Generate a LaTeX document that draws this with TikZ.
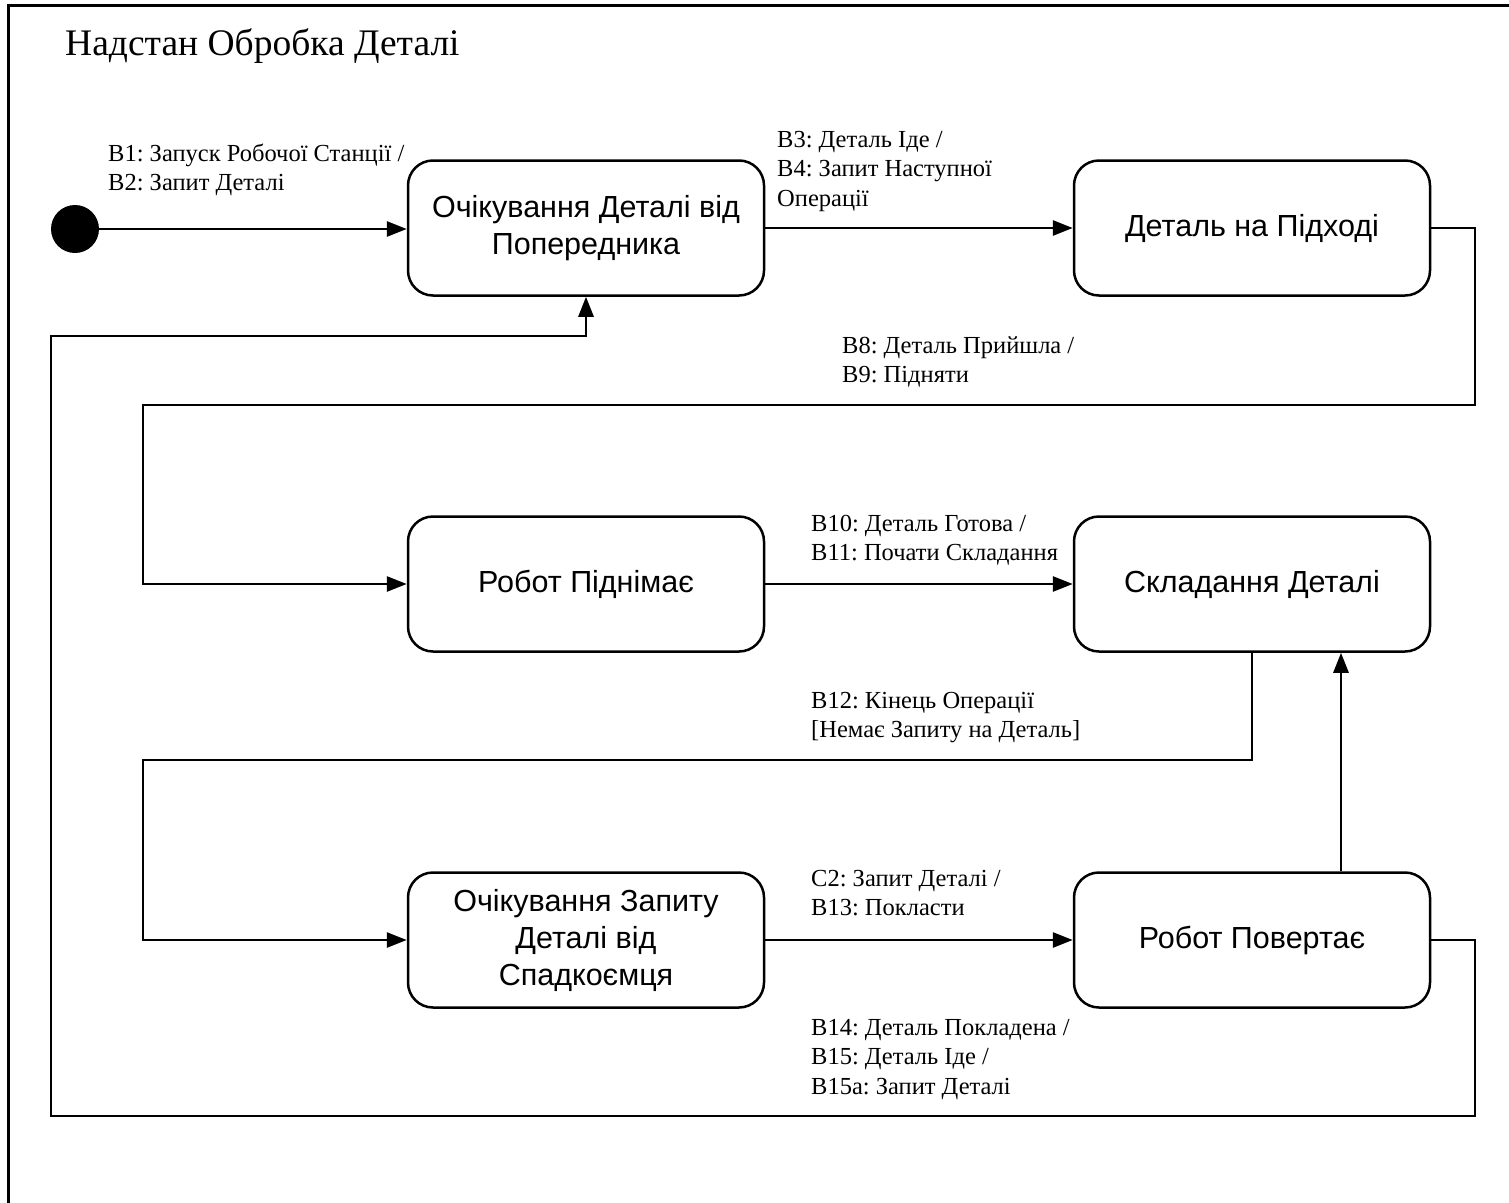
\documentclass[tikz,border=0pt]{standalone}
\usepackage{fontspec}
\setmainfont{Liberation Serif}
\newfontfamily\statefont{Liberation Sans}
\usetikzlibrary{arrows.meta}
\frenchspacing

\begin{document}
\begin{tikzpicture}[x=1pt,y=-1pt,
  state/.style={draw,line width=2.5pt,rounded corners=25pt,
    minimum width=356pt,minimum height=135pt,align=center,inner sep=0pt,
    font=\statefont\fontsize{30.5}{37}\selectfont},
  conn/.style={line width=2.8pt,-{Triangle[length=20pt,width=15pt]}},
  lbl/.style={anchor=north west,align=left,inner sep=0pt,
    font=\fontsize{24.5}{29.5}\selectfont}]
  \useasboundingbox (0,0) rectangle (1509,1202);
  \clip (0,0) rectangle (1509,1202);

  % superstate frame (continues past the page edge)
  \draw[line width=3pt] (8,1230) -- (8,5) -- (1540,5);
  \node[anchor=base west,inner sep=0pt,font=\fontsize{37.5}{42}\selectfont]
    (title) at (65,55) {Надстан Обробка Деталі};

  % initial pseudostate
  \node[circle,fill,inner sep=0pt,minimum size=48pt] (init) at (75,229) {};

  % states
  \node[state] (n1) at (586,228) {Очікування Деталі від\\Попередника};
  \node[state] (n2) at (1252,228) {Деталь на Підході};
  \node[state] (n3) at (586,584) {Робот Піднімає};
  \node[state] (n4) at (1252,584) {Складання Деталі};
  \node[state] (n5) at (586,940) {Очікування Запиту\\Деталі від\\Спадкоємця};
  \node[state] (n6) at (1252,940) {Робот Повертає};

  % routing points
  \coordinate (r1) at (1475,405);
  \coordinate (l1) at (143,405);
  \coordinate (r2) at (1252,760);
  \coordinate (l2) at (143,760);
  \coordinate (r3) at (1475,1116);
  \coordinate (l3) at (51,1116);
  \coordinate (t3) at (51,336);

  % transitions
  \draw[conn] (init) -- (n1.west |- init);
  \draw[conn] (n1.east) -- (n2.west);
  \draw[conn] (n2.east) -| (r1) -- (l1) |- (n3.west);
  \draw[conn] (n3.east) -- (n4.west);
  \draw[conn] (n4.south) -- (r2) -- (l2) |- (n5.west);
  \draw[conn] (n5.east) -- (n6.west);
  \draw[conn] ([xshift=89pt]n6.north) -- ([xshift=89pt]n4.south);
  \draw[conn] (n6.east) -| (r3) -- (l3) -- (t3) -| (n1.south);

  % transition labels
  \node[lbl] (b1) at (108,143) {\rule{0pt}{18pt}B1: Запуск Робочої Станції /\\B2: Запит Деталі};
  \node[lbl] (b3) at (777,129) {\rule{0pt}{18pt}B3: Деталь Іде /\\B4: Запит Наступної\\Операції};
  \node[lbl] (b8) at (842,335) {\rule{0pt}{18pt}B8: Деталь Прийшла /\\B9: Підняти};
  \node[lbl] (b10) at (811,513) {\rule{0pt}{18pt}B10: Деталь Готова /\\B11: Почати Складання};
  \node[lbl] (b12) at (811,690) {\rule{0pt}{18pt}B12: Кінець Операції\\{[}Немає Запиту на Деталь{]}};
  \node[lbl] (c2) at (811,868) {\rule{0pt}{18pt}C2: Запит Деталі /\\B13: Покласти};
  \node[lbl] (b14) at (811,1017) {\rule{0pt}{18pt}B14: Деталь Покладена /\\B15: Деталь Іде /\\B15a: Запит Деталі};
\end{tikzpicture}
\end{document}
